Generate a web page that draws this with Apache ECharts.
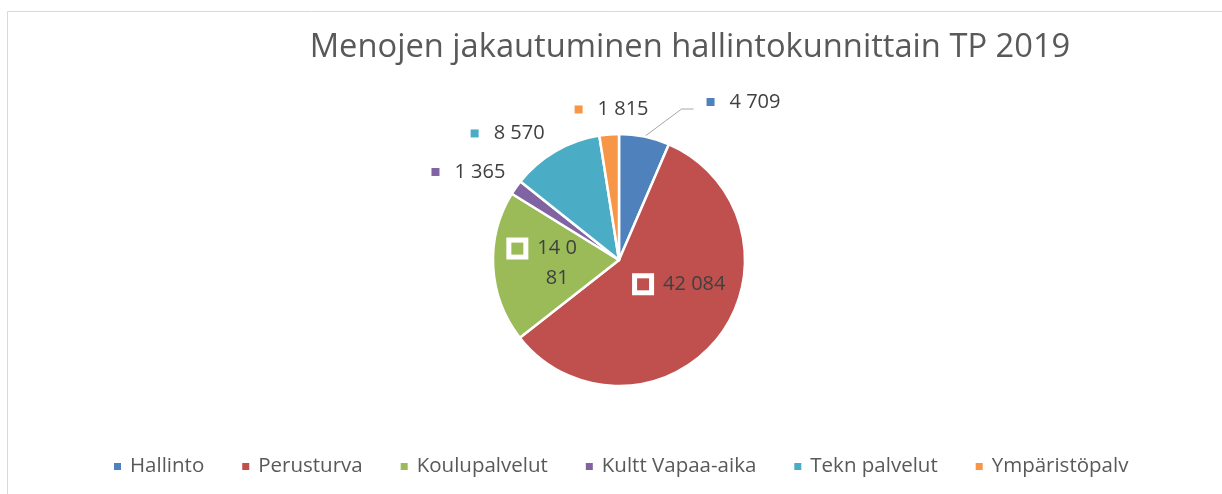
<!DOCTYPE html>
<html>
<head>
<meta charset="utf-8">
<script src="https://cdn.jsdelivr.net/npm/echarts@6/dist/echarts.min.js"></script>
<style>
  html, body { margin: 0; padding: 0; background: #fff; }
  #chart { width: 1222px; height: 494px; }
</style>
</head>
<body>
<div id="chart"></div>
<script>
// Menojen jakautuminen hallintokunnittain TP 2019
const categories = ['Hallinto', 'Perusturva', 'Koulupalvelut', 'Kultt Vapaa-aika', 'Tekn palvelut', 'Ympäristöpalv'];
const values = [4709, 42084, 14081, 1365, 8570, 1815];
const colors = ['#4F81BD', '#C0504D', '#9BBB59', '#8064A2', '#4BACC6', '#F79646'];
const insideLabel = [false, true, true, false, false, false];
// label nudges, to sit where Excel put them
const labelDx = [33, 10, -9, 26, 24, 66];
const labelDy = [-15, -16, 0, -4, -3, -5];

const fmt = v => String(v).replace(/\B(?=(\d{3})+(?!\d))/g, ' ');

const chart = echarts.init(document.getElementById('chart'));

const data = categories.map((name, i) => {
  const inside = insideLabel[i];
  return {
    name,
    value: values[i],
    itemStyle: { color: colors[i] },
    label: {
      position: inside ? 'inside' : 'outside',
      rich: {
        sq: inside
          ? { width: 12, height: 12, backgroundColor: colors[i], borderColor: '#fff', borderWidth: 5, align: 'left' }
          : { width: 8, height: 8, backgroundColor: colors[i], align: 'left' },
        v: { fontSize: 20, color: '#404040', padding: [0, 0, 0, inside ? 14 : 15], fontFamily: 'Open Sans', lineHeight: 30, align: 'left' },
        v2: { fontSize: 20, color: '#404040', padding: [0, 0, 0, 34.5], fontFamily: 'Open Sans', lineHeight: 30, align: 'left' }
      }
    },
    labelLine: { show: i === 0 }
  };
});

chart.setOption({
  backgroundColor: '#fff',
  graphic: [{
    type: 'rect',
    shape: { x: 7.5, y: 11.5, width: 1400, height: 700 },
    style: { fill: 'none', stroke: '#d9d9d9', lineWidth: 1 },
    silent: true
  }],
  title: {
    text: 'Menojen jakautuminen hallintokunnittain TP 2019',
    left: 685,
    textAlign: 'center',
    top: 26,
    textStyle: { fontFamily: 'Open Sans', fontWeight: 'normal', fontSize: 32.7, color: '#595959' }
  },
  legend: {
    data: categories,
    left: 107,
    top: 451,
    icon: 'rect',
    itemWidth: 9,
    itemHeight: 9,
    itemGap: 36,
    textStyle: { fontFamily: 'Open Sans', fontSize: 20.5, color: '#595959', padding: [0, 0, 0, 3] }
  },
  series: [{
    type: 'pie',
    center: [619, 260],
    radius: 126,
    startAngle: 90,
    clockwise: true,
    animation: false,
    itemStyle: { borderColor: '#fff', borderWidth: 2.5 },
    label: {
      show: true,
      formatter: p => {
        const s = fmt(p.value);
        if (p.name === 'Koulupalvelut') {
          return '{sq|}{v|' + s.slice(0, 4) + '}\n{v2|' + s.slice(4) + '}';
        }
        return '{sq|}{v|' + s + '}';
      }
    },
    labelLine: {
      length: 20,
      length2: 20,
      lineStyle: { color: '#a6a6a6', width: 1 }
    },
    labelLayout: p => {
      const i = p.dataIndex;
      const out = { dx: labelDx[i], dy: labelDy[i] };
      if (i === 0 && p.labelLinePoints) {
        const lx = p.labelRect.x + labelDx[i];
        const ly = p.labelRect.y + labelDy[i] + p.labelRect.height / 2 + 7;
        out.labelLinePoints = [p.labelLinePoints[0], [lx - 25, ly], [lx - 13, ly]];
      }
      return out;
    },
    data
  }]
});
</script>
</body>
</html>
